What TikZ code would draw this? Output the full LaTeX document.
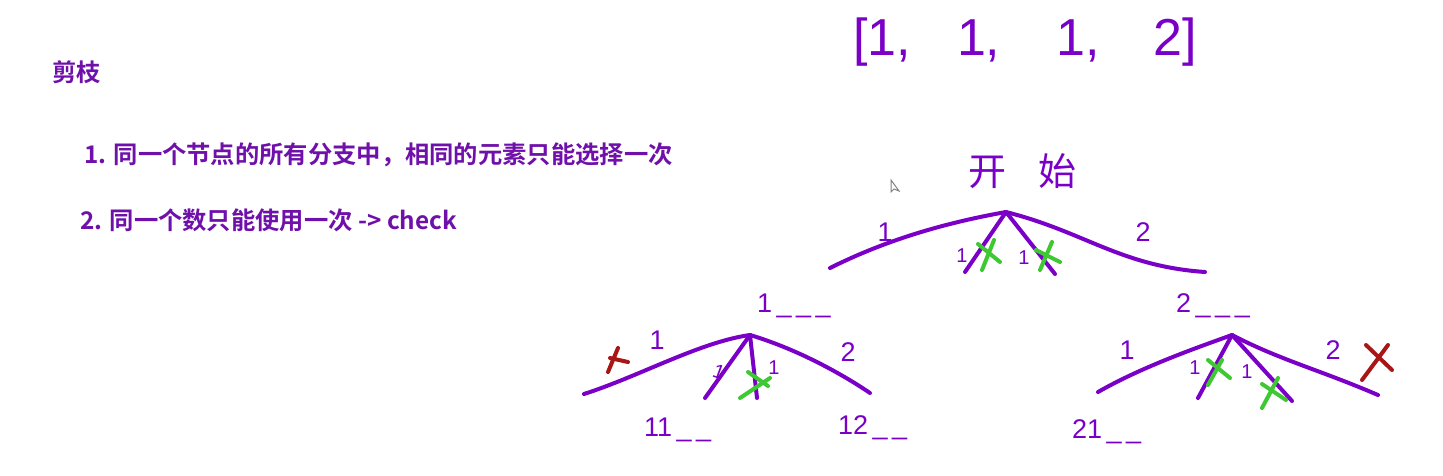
\documentclass[tikz,border=0pt]{standalone}
\usepackage{fontspec}
\newfontfamily\cjk{Noto Sans CJK SC}[BoldFont={Noto Sans CJK SC Bold}]
\newfontfamily\handfont{Liberation Sans}
\usetikzlibrary{positioning}
\definecolor{textpurple}{RGB}{112,16,170}
\definecolor{ink}{RGB}{122,0,200}
\definecolor{greenx}{RGB}{62,200,50}
\definecolor{redx}{RGB}{168,22,22}
\tikzset{
  note/.style={text=textpurple, font=\cjk\bfseries\fontsize{24.3}{28}\selectfont, anchor=west, inner sep=0pt},
  branch/.style={ink, line width=4, line cap=round},
  digit/.style={text=ink, font=\handfont\fontsize{27}{30}\selectfont, inner sep=0pt},
  small digit/.style={text=ink, font=\handfont\fontsize{20}{24}\selectfont, inner sep=0pt},
  crossmark/.style={line width=4, line cap=round},
}
\begin{document}
\begin{tikzpicture}[x=1pt, y=-1pt]
\useasboundingbox (0,0) rectangle (1443,475);
\fill[white] (0,0) rectangle (1443,475);
% notes on the left
\node[note] (title) at (52,72) {剪枝};
\node[note] (rule1) at (84,155) {1. 同一个节点的所有分支中，相同的元素只能选择一次};
\node[note] (rule2) at (80,220) {2. 同一个数只能使用一次 -> check};
% the array
\node[text=ink, font=\handfont\fontsize{52}{56}\selectfont, anchor=west, inner sep=0pt] (nums) at (853,42) {[1,\hspace{46pt}1,\hspace{56pt}1,\hspace{54pt}2]};
% root
\node[text=ink, font=\cjk\fontsize{38}{42}\selectfont, inner sep=0pt] (start) at (1022,171) {开\hspace{32pt}始};
\coordinate (root) at (1006,212);
\coordinate (r1) at (830,268);
\coordinate (r2) at (965,272);
\coordinate (r3) at (1055,274);
\coordinate (r4) at (1205,272);
\draw[branch] (root) .. controls (950,222) and (890,238) .. (r1);
\draw[branch] (root) -- (r2);
\draw[branch] (root) -- (r3);
\draw[branch] (root) .. controls (1085,232) and (1120,266) .. (r4);
\node[digit] (l1) at (885,232) {1};
\node[small digit] (l2) at (962,256) {1};
\node[small digit] (l3) at (1024,258) {1};
\node[digit] (l4) at (1143,232) {2};
\draw[crossmark, greenx] (978,244) -- (1000,262) (982,270) -- (994,240);
\draw[crossmark, greenx] (1036,250) -- (1060,262) (1040,270) -- (1052,242);
% cursor
\draw[gray, fill=white, line width=1] (891,180) -- (891,192) -- (894,189) -- (899,191) -- cycle;
% left subtree
\node[digit, anchor=west] (pre1) at (757,306) {1\,\_\,\_\,\_};
\coordinate (a) at (750,335);
\coordinate (a1) at (584,394);
\coordinate (a2) at (705,398);
\coordinate (a3) at (757,398);
\coordinate (a4) at (870,393);
\draw[branch] (a) .. controls (700,342) and (640,376) .. (a1);
\draw[branch] (a) -- (a2);
\draw[branch] (a) -- (a3);
\draw[branch] (a) .. controls (800,350) and (845,376) .. (a4);
\node[digit] (al1) at (657,340) {1};
\node[small digit, rotate=-20] (al2) at (719,372) {1};
\node[small digit] (al3) at (774,368) {1};
\node[digit] (al4) at (848,352) {2};
\draw[crossmark, greenx] (740,398) -- (770,378) (748,372) -- (768,386);
\draw[crossmark, redx] (608,372) -- (618,348) (610,358) -- (628,362);
\node[digit, anchor=west] (leaf11) at (644,430) {11\,\_\,\_};
\node[digit, anchor=west] (leaf12) at (838,428) {12\,\_\,\_};
% right subtree
\node[digit, anchor=west] (pre2) at (1176,306) {2\,\_\,\_\,\_};
\coordinate (b) at (1232,335);
\coordinate (b1) at (1098,392);
\coordinate (b2) at (1198,398);
\coordinate (b3) at (1292,401);
\coordinate (b4) at (1378,395);
\draw[branch] (b) .. controls (1190,350) and (1140,368) .. (b1);
\draw[branch] (b) -- (b2);
\draw[branch] (b) -- (b3);
\draw[branch] (b) .. controls (1280,360) and (1320,370) .. (b4);
\node[digit] (bl1) at (1127,350) {1};
\node[small digit] (bl2) at (1195,368) {1};
\node[small digit] (bl3) at (1247,372) {1};
\node[digit] (bl4) at (1333,350) {2};
\draw[crossmark, greenx] (1208,360) -- (1230,378) (1208,385) -- (1222,360);
\draw[crossmark, greenx] (1262,384) -- (1286,400) (1262,408) -- (1278,378);
\draw[crossmark, redx] (1362,380) -- (1388,345) (1366,345) -- (1392,370);
\node[digit, anchor=west] (leaf21) at (1072,432) {21\,\_\,\_};
\end{tikzpicture}
\end{document}
